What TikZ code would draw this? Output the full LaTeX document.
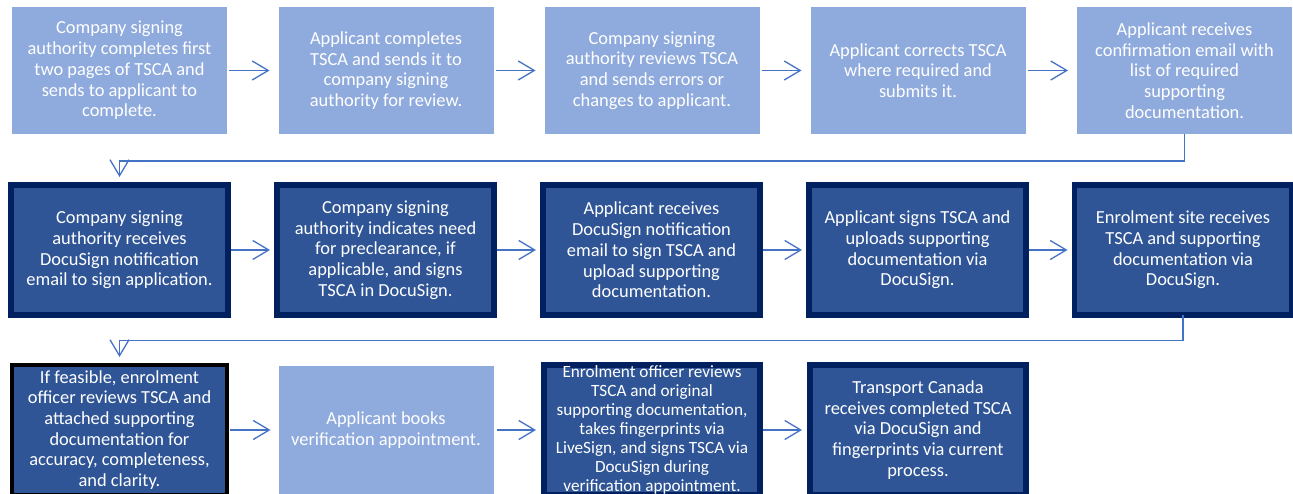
\documentclass[tikz,border=0pt]{standalone}
\usepackage{fontspec}
\setmainfont{Carlito}
\usetikzlibrary{arrows.meta}
\definecolor{stepLight}{HTML}{8FAADC}
\definecolor{stepDark}{HTML}{2F5597}
\definecolor{stepEdge}{HTML}{002060}
\definecolor{flowBlue}{HTML}{4472C4}
\tikzset{
  boxtext/.style={text=white, align=center, inner sep=0pt, outer sep=0pt,
    font=\fontsize{18.4pt}{20.7pt}\selectfont},
  lightbox/.style={boxtext, fill=stepLight, minimum width=215pt, minimum height=127pt},
  darkbox/.style={boxtext, fill=stepDark, draw=stepEdge, line width=5.5pt,
    minimum width=217pt, minimum height=130pt},
  blackbox/.style={boxtext, fill=stepDark, draw=black, line width=4pt,
    minimum width=215pt, minimum height=130pt},
  flow/.style={draw=flowBlue, line width=1.3pt,
    -{Straight Barb[length=16pt,width=19pt,line width=1.3pt]}},
}
\begin{document}
\begin{tikzpicture}[x=1pt,y=-1pt]
\useasboundingbox (0,0) rectangle (1293,494);
\clip (0,0) rectangle (1293,494);

% first row: preparation of the TSCA
\node[lightbox] (a1) at (119.5,70.5) {Company signing\\authority completes first\\two pages of TSCA and\\sends to applicant to\\complete.};
\node[lightbox] (a2) at (386,70.5) {Applicant completes\\TSCA and sends it to\\company signing\\authority for review.};
\node[lightbox] (a3) at (652,70.5) {Company signing\\authority reviews TSCA\\and sends errors or\\changes to applicant.};
\node[lightbox] (a4) at (918,70.5) {Applicant corrects TSCA\\where required and\\submits it.};
\node[lightbox] (a5) at (1184.5,70.5) {Applicant receives\\confirmation email with\\list of required\\supporting\\documentation.};

% second row: signing in DocuSign
\node[darkbox] (b1) at (119.5,250) {Company signing\\authority receives\\DocuSign notification\\email to sign application.};
\node[darkbox] (b2) at (385.5,250) {Company signing\\authority indicates need\\for preclearance, if\\applicable, and signs\\TSCA in DocuSign.};
\node[darkbox] (b3) at (651.5,250) {Applicant receives\\DocuSign notification\\email to sign TSCA and\\upload supporting\\documentation.};
\node[darkbox] (b4) at (917.5,250) {Applicant signs TSCA and\\uploads supporting\\documentation via\\DocuSign.};
\node[darkbox] (b5) at (1183,250) {Enrolment site receives\\TSCA and supporting\\documentation via\\DocuSign.};

% third row: verification
\node[blackbox] (c1) at (119.5,430) {If feasible, enrolment\\officer reviews TSCA and\\attached supporting\\documentation for\\accuracy, completeness,\\and clarity.};
\node[lightbox, minimum height=128pt] (c2) at (386,430) {Applicant books\\verification appointment.};
\node[darkbox, minimum width=216pt, font=\fontsize{17.2pt}{18.9pt}\selectfont] (c3) at (652,430) {Enrolment officer reviews\\TSCA and original\\supporting documentation,\\takes fingerprints via\\LiveSign, and signs TSCA via\\DocuSign during\\verification appointment.};
\node[darkbox, minimum width=216pt] (c4) at (918,430) {Transport Canada\\receives completed TSCA\\via DocuSign and\\fingerprints via current\\process.};

% connectors along each row
\foreach \p/\q in {a1/a2,a2/a3,a3/a4,a4/a5}
  \draw[flow, shorten <=2pt, shorten >=9pt] (\p.east) -- (\q.west);
\foreach \p/\q in {b1/b2,b2/b3,b3/b4,b4/b5}
  \draw[flow, shorten <=2.5pt, shorten >=7pt] (\p.east) -- (\q.west);
\foreach \p/\q in {c1/c2,c2/c3,c3/c4}
  \draw[flow, shorten <=3pt, shorten >=8pt] (\p.east) -- (\q.west);

% elbow connectors wrapping to the next row
\coordinate (k1) at (1184.5,161);
\coordinate (k2) at (1183,340.7);
\draw[flow, shorten >=8pt] (a5.south) -- (k1) -| (b1.north);
\draw[flow, shorten >=8pt] (b5.south) -- (k2) -| (c1.north);
\end{tikzpicture}
\end{document}
